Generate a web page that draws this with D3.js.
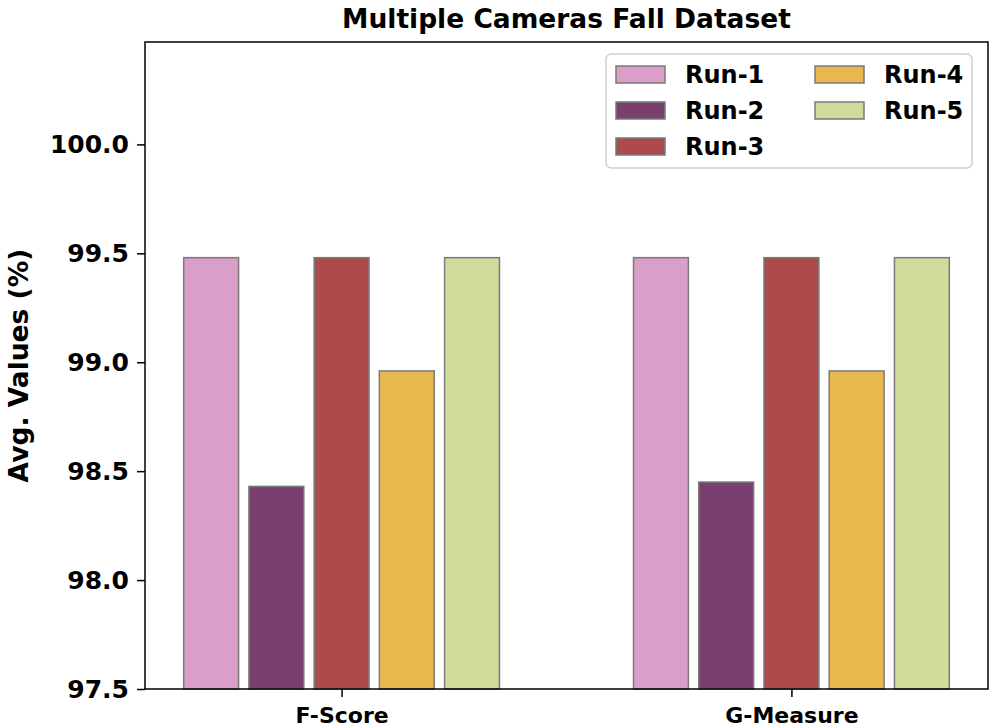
<!DOCTYPE html>
<html>
<head>
<meta charset="utf-8">
<script src="https://cdn.jsdelivr.net/npm/d3@7"></script>
<style>
  html, body { margin: 0; padding: 0; background: #fff; }
  svg text { font-family: "DejaVu Sans", sans-serif; font-weight: bold; }
</style>
</head>
<body>
<svg id="chart" width="995" height="728"></svg>
<script>
const categories = ["F-Score", "G-Measure"];
const seriesNames = ["Run-1", "Run-2", "Run-3", "Run-4", "Run-5"];
const run1 = [99.48, 99.48];
const run2 = [98.43, 98.45];
const run3 = [99.48, 99.48];
const run4 = [98.96, 98.96];
const run5 = [99.48, 99.48];
const seriesValues = [run1, run2, run3, run4, run5];
const colors = ["#d99fc8", "#7b3f6f", "#ad4a4b", "#e8b84f", "#d0dc9b"];
const yTicks = [97.5, 98.0, 98.5, 99.0, 99.5, 100.0];

const svg = d3.select("#chart");
const mLeft = 145, mRight = 988, mTop = 42, mBottom = 689;

const x = d3.scaleLinear().domain([-0.437, 1.437]).range([mLeft, mRight]);
const y = d3.scaleLinear().domain([97.5, 100.47]).range([mBottom, mTop]);

const barStep = 0.145, barW = 0.122;

// bars
seriesValues.forEach((vals, si) => {
  svg.append("g").selectAll("rect")
    .data(vals)
    .join("rect")
    .attr("x", (d, i) => x(i + (si - 2) * barStep - barW / 2))
    .attr("width", x(barW) - x(0))
    .attr("y", d => y(d))
    .attr("height", d => y(97.5) - y(d))
    .attr("fill", colors[si])
    .attr("stroke", "#7a7a7a")
    .attr("stroke-width", 1.5);
});

// frame
svg.append("rect").attr("x", mLeft).attr("y", mTop)
  .attr("width", mRight - mLeft).attr("height", mBottom - mTop)
  .attr("fill", "none").attr("stroke", "#000").attr("stroke-width", 1.5);

// y axis
const yAxis = svg.append("g").attr("transform", `translate(${mLeft},0)`)
  .call(d3.axisLeft(y).tickValues(yTicks).tickFormat(d3.format(".1f")).tickSize(8).tickPadding(8));
yAxis.select(".domain").remove();
yAxis.selectAll("line").attr("stroke", "#000").attr("stroke-width", 1.5);
yAxis.selectAll("text").attr("font-size", 25).attr("fill", "#000")
  .style("font-family", "DejaVu Sans").style("font-weight", "bold");

// x axis
const xAxis = svg.append("g").attr("transform", `translate(0,${mBottom})`)
  .call(d3.axisBottom(x).tickValues([0, 1]).tickFormat(i => categories[i]).tickSize(8).tickPadding(10));
xAxis.select(".domain").remove();
xAxis.selectAll("line").attr("stroke", "#000").attr("stroke-width", 1.5);
xAxis.selectAll("text").attr("font-size", 22).attr("fill", "#000")
  .style("font-family", "DejaVu Sans").style("font-weight", "bold");

// title
svg.append("text").attr("x", (mLeft + mRight) / 2).attr("y", 28)
  .attr("text-anchor", "middle").attr("font-size", 26.5).text("Multiple Cameras Fall Dataset");

// y label
svg.append("text")
  .attr("transform", `translate(28,${(mTop + mBottom) / 2}) rotate(-90)`)
  .attr("text-anchor", "middle").attr("font-size", 26.5).text("Avg. Values (%)");

// legend
const lg = svg.append("g");
lg.append("rect").attr("x", 606).attr("y", 54).attr("width", 366).attr("height", 114)
  .attr("rx", 5).attr("fill", "#fff").attr("stroke", "#d0d0d0").attr("stroke-width", 1.5);
seriesNames.forEach((name, i) => {
  const col = i < 3 ? 0 : 1;
  const row = i < 3 ? i : i - 3;
  const px = col === 0 ? 616 : 815;
  const py = 66 + row * 36;
  lg.append("rect").attr("x", px).attr("y", py).attr("width", 49).attr("height", 17)
    .attr("fill", colors[i]).attr("stroke", "#7a7a7a").attr("stroke-width", 1.5);
  lg.append("text").attr("x", px + 69).attr("y", py + 17).attr("font-size", 24).text(name);
});
</script>
</body>
</html>
